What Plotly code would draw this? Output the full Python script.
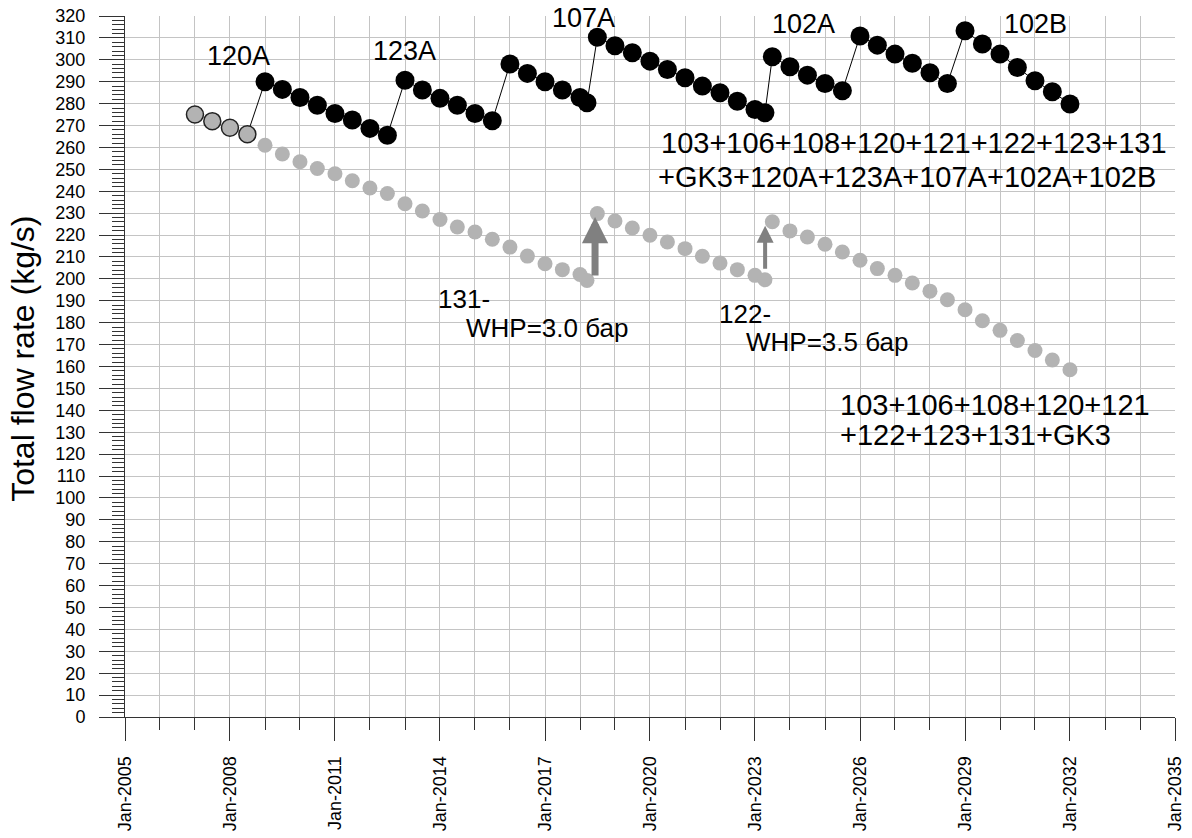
import datetime as dt
import plotly.graph_objects as go

# ---------------- data ----------------
hist_dates = ["2007-01-01", "2007-07-01", "2008-01-01", "2008-07-01"]
hist_vals = [275, 272, 269, 266]

fc_dates = [
    "2009-01-01", "2009-07-01", "2010-01-01", "2010-07-01", "2011-01-01", "2011-07-01",
    "2012-01-01", "2012-07-01", "2013-01-01", "2013-07-01", "2014-01-01", "2014-07-01",
    "2015-01-01", "2015-07-01", "2016-01-01", "2016-07-01", "2017-01-01", "2017-07-01",
    "2018-01-01", "2018-03-15", "2018-07-01", "2019-01-01", "2019-07-01", "2020-01-01",
    "2020-07-01", "2021-01-01", "2021-07-01", "2022-01-01", "2022-07-01", "2023-01-01",
    "2023-04-15", "2023-07-01", "2024-01-01", "2024-07-01", "2025-01-01", "2025-07-01",
    "2026-01-01", "2026-07-01", "2027-01-01", "2027-07-01", "2028-01-01", "2028-07-01",
    "2029-01-01", "2029-07-01", "2030-01-01", "2030-07-01", "2031-01-01", "2031-07-01",
    "2032-01-01",
]

all_wells_vals = [
    290.0, 286.5, 282.8, 279.3, 275.5, 272.5, 268.7, 265.6,
    290.7, 286.2, 282.4, 279.3, 275.5, 272.2,
    298.1, 293.8, 290.0, 286.2, 282.8, 280.4,
    310.3, 306.4, 303.2, 299.4, 295.6, 291.8, 288.0, 285.0, 281.1, 277.3, 275.8,
    301.4, 296.8, 293.0, 289.2, 285.9,
    310.9, 306.7, 302.6, 298.4, 294.1, 289.2,
    313.3, 307.2, 302.6, 296.5, 290.4, 285.4, 279.8,
]

existing_vals = [
    261.0, 257.0, 253.5, 250.4, 248.0, 244.8, 241.5, 239.0,
    234.3, 231.0, 227.1, 223.7, 221.4, 218.1, 214.5, 210.4, 206.9, 204.2, 202.0, 199.3,
    229.8, 226.4, 223.2, 219.9, 216.8, 213.8, 210.3, 207.2, 204.2, 201.6, 199.6,
    226.1, 221.9, 219.1, 215.8, 212.3, 208.5, 204.7, 201.6, 198.1, 194.4, 190.5,
    185.9, 180.9, 176.5, 171.9, 167.3, 163.0, 158.5,
]

# arrows: (decimal year, tail value, tip value)
arrow_x = [2018.43, 2023.29]
arrow_tail = [200.8, 203.9]
arrow_tip = [228.2, 224.3]

# text labels: (text, decimal year of left edge, value of centre, size)
labels = [
    ("120A", 2007.29, 301.7, 27),
    ("123A", 2012.03, 304.0, 27),
    ("107A", 2017.14, 319.0, 27),
    ("102A", 2023.43, 316.3, 27),
    ("102B", 2030.06, 316.3, 27),
    ("103+106+108+120+121+122+123+131", 2020.26, 261.9, 29),
    ("+GK3+120A+123A+107A+102A+102B", 2020.17, 246.4, 29),
    ("131-", 2013.9, 190.6, 26),
    ("WHP=3.0 бар", 2014.68, 177.8, 26),
    ("122-", 2021.9, 183.8, 26),
    ("WHP=3.5 бар", 2022.68, 171.0, 26),
    ("103+106+108+120+121", 2025.38, 142.6, 29),
    ("+122+123+131+GK3", 2025.38, 128.9, 29),
]


def yr(d):
    y = int(d)
    start = dt.datetime(y, 1, 1)
    end = dt.datetime(y + 1, 1, 1)
    return start + (end - start) * (d - y)


FONT = "Liberation Sans, Arial, sans-serif"
GRID = "#c4c4c4"
AXIS = "#333333"

fig = go.Figure()

# thin connecting line (historical end -> full forecast)
fig.add_trace(go.Scatter(
    x=hist_dates[-1:] + fc_dates, y=hist_vals[-1:] + all_wells_vals,
    mode="lines", line=dict(color="black", width=1), hoverinfo="skip",
))
# existing wells forecast (grey dots)
fig.add_trace(go.Scatter(
    x=fc_dates, y=existing_vals, mode="markers",
    marker=dict(color="#b3b3b3", size=15, line=dict(width=0)),
))
# historical
fig.add_trace(go.Scatter(
    x=hist_dates, y=hist_vals, mode="markers",
    marker=dict(color="#b3b3b3", size=17, line=dict(color="#222222", width=1.5)),
))
# all wells forecast (black dots)
fig.add_trace(go.Scatter(
    x=fc_dates, y=all_wells_vals, mode="markers",
    marker=dict(color="black", size=19, line=dict(width=0)),
))

annotations = []
for i, (ax_, tl, tp) in enumerate(zip(arrow_x, arrow_tail, arrow_tip)):
    w = 7 if i == 0 else 4
    s = 0.75 if i == 0 else 0.85
    annotations.append(dict(
        x=yr(ax_), y=tp, ax=yr(ax_), ay=tl, xref="x", yref="y", axref="x", ayref="y",
        text="", showarrow=True, arrowhead=2, arrowsize=s, arrowwidth=w,
        arrowcolor="#808080", standoff=0, startstandoff=0,
    ))
for txt, x, y, sz in labels:
    annotations.append(dict(
        x=yr(x), y=y, xref="x", yref="y", text=txt, showarrow=False,
        xanchor="left", yanchor="middle", font=dict(family=FONT, size=sz, color="black"),
    ))
annotations.append(dict(
    x=-0.0971, y=0.511, xref="paper", yref="paper", text="Total flow rate (kg/s)",
    textangle=-90, showarrow=False, xanchor="center", yanchor="middle",
    font=dict(family=FONT, size=32, color="black"),
))

fig.update_layout(
    width=1192, height=838,
    margin=dict(l=125, r=17, t=16, b=121, autoexpand=False),
    paper_bgcolor="white", plot_bgcolor="white",
    showlegend=False,
    font=dict(family=FONT, size=18, color="black"),
    annotations=annotations,
    xaxis=dict(
        type="date", range=["2005-01-01", "2035-01-01"], automargin=False,
        tick0="2005-01-01", dtick="M36", tickformat="%b-%Y", tickangle=-90,
        ticks="outside", ticklen=23, tickcolor=AXIS, tickwidth=1,
        showgrid=True, gridcolor=GRID, gridwidth=1,
        showline=True, linecolor=AXIS, linewidth=1, zeroline=False,
        ticklabelstandoff=8, ticklabeloverflow="allow",
        tickfont=dict(family=FONT, size=18, color="black"),
        minor=dict(dtick="M12", tick0="2005-01-01", ticks="outside", ticklen=12,
                   tickcolor=AXIS, showgrid=True, gridcolor=GRID, gridwidth=1),
    ),
    yaxis=dict(
        range=[0, 320], dtick=10, tick0=0, automargin=False,
        ticks="outside", ticklen=25, tickcolor=AXIS, tickwidth=1,
        showgrid=True, gridcolor=GRID, gridwidth=1,
        showline=True, linecolor=AXIS, linewidth=1, zeroline=False,
        ticklabelstandoff=10, ticklabeloverflow="allow",
        tickfont=dict(family=FONT, size=18, color="black"),
        minor=dict(dtick=2, ticks="outside", ticklen=12, tickcolor=AXIS, showgrid=False),
    ),
)

fig.write_html(
    "out.html",
    config={"displayModeBar": False},
    post_script="document.body.style.margin='0';document.body.style.padding='0';",
)
